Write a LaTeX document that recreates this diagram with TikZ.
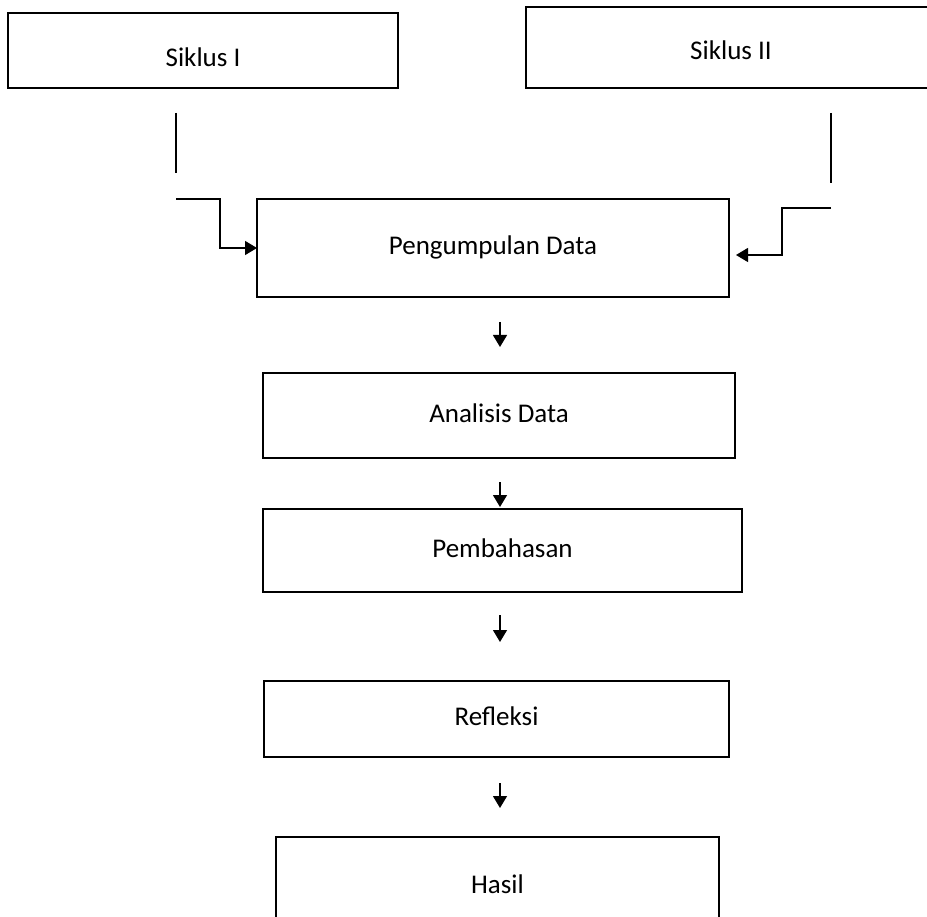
\documentclass[tikz,border=0pt]{standalone}
\usepackage{fontspec}
\setmainfont{Carlito}
\usetikzlibrary{arrows.meta}
\begin{document}
\begin{tikzpicture}[x=1pt,y=-1pt,
  box/.style={draw,line width=1.1pt,inner sep=0pt,outer sep=0pt,
    font=\fontsize{27}{32}\selectfont,text height=19pt,text depth=6pt},
  conn/.style={line width=1.2pt},
  arr/.style={conn,-{Triangle[length=12pt,width=14pt]}}]
\useasboundingbox (0,0) rectangle (927,917);
\fill[white] (0,0) rectangle (927,917);
\begin{scope}
\clip (0,0) rectangle (927,917);
\node[box,minimum width=390pt,minimum height=75pt,text height=39pt] (s1) at (203,50.5) {Siklus I};
\node[box,minimum width=410pt,minimum height=81pt,text height=31pt] (s2) at (731,47.5) {Siklus II};
\node[box,minimum width=472pt,minimum height=98pt] (pd) at (493,248) {Pengumpulan Data};
\node[box,minimum width=472pt,minimum height=85pt] (ad) at (499,415.5) {Analisis Data};
\node[box,minimum width=479pt,minimum height=83pt] (pb) at (502.5,550.5) {Pembahasan};
\node[box,minimum width=465pt,minimum height=76pt] (rf) at (496.5,719) {Refleksi};
\node[box,minimum width=443pt,minimum height=100pt] (hs) at (497.5,887) {Hasil};

\coordinate (v1a) at (176,113);
\coordinate (v1b) at (176,173);
\coordinate (e1) at (176,199);
\coordinate (v2a) at (831,113);
\coordinate (v2b) at (831,183);
\coordinate (e2) at (831,208);
\draw[conn] (v1a) -- (v1b);
\draw[conn] (v2a) -- (v2b);
\draw[arr] (e1) -- (220,199) |- (pd.west);
\draw[arr] (e2) -- (782,208) |- ([xshift=7pt,yshift=-7pt]pd.east);

\coordinate (a1s) at (500,322); \coordinate (a1e) at (500,347);
\coordinate (a2s) at (500,482); \coordinate (a2e) at (500,507);
\coordinate (a3s) at (500,615); \coordinate (a3e) at (500,642);
\coordinate (a4s) at (500,783); \coordinate (a4e) at (500,808);
\draw[arr] (a1s) -- (a1e);
\draw[arr] (a2s) -- (a2e);
\draw[arr] (a3s) -- (a3e);
\draw[arr] (a4s) -- (a4e);
\end{scope}
\end{tikzpicture}
\end{document}
